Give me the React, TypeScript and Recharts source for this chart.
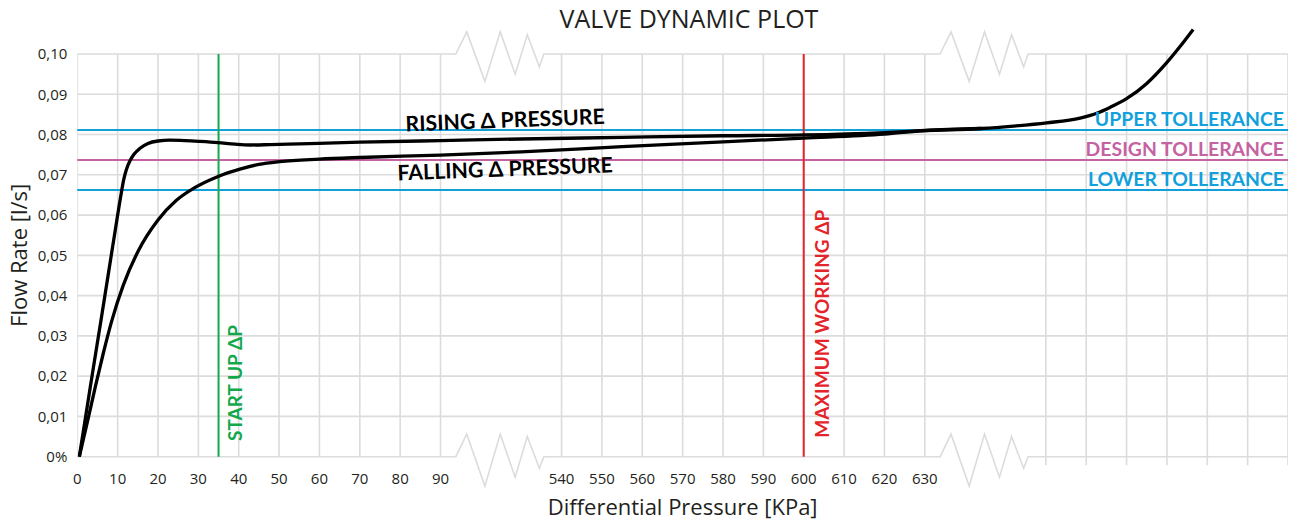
import React from 'react';
import { LineChart, Line, XAxis, YAxis, ReferenceLine, ReferenceDot } from 'recharts';

// ---- axis layout (broken x axis: positions in axis units) ----
// 0..90 -> 0..90 kPa, 120..210 -> 540..630 kPa, 240..300 -> unlabelled gridlines
const xTickPositions = [0, 10, 20, 30, 40, 50, 60, 70, 80, 90, 120, 130, 140, 150, 160, 170, 180, 190, 200, 210];
const xTickLabels = ['0', '10', '20', '30', '40', '50', '60', '70', '80', '90', '540', '550', '560', '570', '580', '590', '600', '610', '620', '630'];
const extraGridX = [240, 250, 260, 270, 280, 290, 300];
const yTicks = [0, 0.01, 0.02, 0.03, 0.04, 0.05, 0.06, 0.07, 0.08, 0.09, 0.1];
const yTickLabels = ['0%', '0,01', '0,02', '0,03', '0,04', '0,05', '0,06', '0,07', '0,08', '0,09', '0,10'];

// ---- series ----
const risingX = [0.5, 3.2, 6.0, 8.7, 10.0, 10.9, 11.5, 12.19, 13.06, 14.05, 15.54, 17.52, 20.0, 22.97, 26.69, 30.4, 34.86, 39.08, 42.8, 47.75, 55, 70, 90, 110, 135, 160, 180, 200, 210, 224, 232, 240.2, 248.5, 252.6, 256, 260, 265, 269.9, 273.2, 276.5];
const risingY = [0, 0.0172, 0.0347, 0.0518, 0.06, 0.0655, 0.0688, 0.0714, 0.0735, 0.0751, 0.0766, 0.0778, 0.0784, 0.0786, 0.0785, 0.0783, 0.078, 0.0776, 0.0774, 0.0775, 0.0777, 0.0781, 0.0785, 0.0789, 0.0793, 0.0797, 0.0799, 0.0805, 0.081, 0.0815, 0.0821, 0.0829, 0.0841, 0.0853, 0.0868, 0.0889, 0.0927, 0.0978, 0.1018, 0.1061];
const fallingX = [0.5, 2.7, 4.5, 6.4, 8.5, 11.4, 15.1, 20.0, 24.5, 29.1, 34.9, 40.3, 45, 50.2, 60, 70, 90, 110, 135, 160, 180, 200, 210, 224];
const fallingY = [0, 0.0095, 0.0175, 0.0255, 0.0336, 0.0426, 0.0511, 0.0588, 0.0636, 0.0668, 0.0696, 0.0714, 0.0726, 0.0733, 0.0739, 0.0743, 0.0749, 0.0757, 0.077, 0.0782, 0.0791, 0.0801, 0.081, 0.0815];

// ---- reference values ----
const upperTol = 0.0811;
const designTol = 0.0737;
const lowerTol = 0.0662;
const startUpPos = 35;     // 35 kPa
const maxWorkingPos = 180; // 600 kPa

// ---- axis break zigzags ----
const breakStarts = [90, 210];
const zigDX = [3.8, 6.5, 11.0, 14.8, 18.5, 21.5, 24.5, 25.6];
const zigTopY = [0.1, 0.1055, 0.0932, 0.1055, 0.095, 0.1048, 0.0968, 0.1];
const zigBottomY = [0, 0.0056, -0.0073, 0.0056, -0.0051, 0.005, -0.0029, 0];

const BLUE = '#12A0DD';
const MAGENTA = '#C462A2';
const GREEN = '#13A84B';
const RED = '#E3252B';
const GRID = '#DCDCDC';
const TXT = '#231F20';
const FONT = '"Open Sans", sans-serif';
const BOLD = 'Lato, "Open Sans", sans-serif';

const rising = risingX.map((x, i) => ({ x, y: risingY[i] }));
const falling = fallingX.map((x, i) => ({ x, y: fallingY[i] }));

const border = (base: number, zig: number[]) => {
  const pts: { x: number; y: number }[] = [{ x: 0, y: base }];
  breakStarts.forEach((b) => zigDX.forEach((dx, i) => pts.push({ x: b + dx, y: zig[i] })));
  pts.push({ x: 300, y: base });
  return pts;
};
const topBorder = border(0.1, zigTopY);
const bottomBorder = border(0, zigBottomY);

const vGrid: { x: number; y: number | null }[] = [];
xTickPositions.forEach((x) => vGrid.push({ x, y: 0 }, { x, y: 0.1 }, { x, y: null }));
extraGridX.forEach((x) => vGrid.push({ x, y: -0.0021 }, { x, y: 0.1 }, { x, y: null }));
const hGrid: { x: number; y: number | null }[] = [];
yTicks.slice(1, -1).forEach((y) => hGrid.push({ x: 0, y }, { x: 300, y }, { x: 300, y: null }));

const XTick = (props: any) => {
  const { x, y, payload } = props;
  const i = xTickPositions.indexOf(payload.value);
  return (
    <text x={x} y={y} dy={-5} textAnchor="middle" fontSize={15} fontFamily={FONT} fill={TXT}>
      {xTickLabels[i]}
    </text>
  );
};

export default function App() {
  return (
    <div style={{ position: 'absolute', left: 0, top: 0, width: 1293, height: 521, background: '#fff' }}>
      <div
        style={{
          position: 'absolute', left: 0, top: 6, width: 1378, textAlign: 'center',
          fontFamily: FONT, fontSize: 25, lineHeight: '25px', color: TXT,
        }}
      >
        VALVE DYNAMIC PLOT
      </div>
      <LineChart width={1293} height={521} margin={{ top: 21.8, right: 5, bottom: 0, left: 0 }}>
        <XAxis
          type="number" dataKey="x" domain={[0, 300]} allowDataOverflow
          ticks={xTickPositions} tick={<XTick />} tickLine={false} axisLine={false}
          tickSize={0} tickMargin={0} height={32.1} interval={0}
          label={{ value: 'Differential Pressure [KPa]', position: 'insideBottom', offset: 6, fontSize: 22, fontFamily: FONT, fill: TXT }}
        />
        <YAxis
          type="number" domain={[-0.008, 0.108]} allowDataOverflow ticks={yTicks} width={77.3}
          tickFormatter={(v: number) => yTickLabels[yTicks.indexOf(v)] ?? ''}
          tick={{ fontSize: 15, fontFamily: FONT, fill: TXT }} tickLine={false} axisLine={false}
          tickSize={0} tickMargin={10} interval={0}
          label={{ value: 'Flow Rate [l/s]', angle: -90, position: 'insideLeft', offset: 19, fontSize: 22, fontFamily: FONT, fill: TXT, style: { textAnchor: 'middle' } }}
        />
        <Line data={vGrid} dataKey="y" type="linear" stroke={GRID} strokeWidth={1.6} dot={false} isAnimationActive={false} connectNulls={false} />
        <Line data={hGrid} dataKey="y" type="linear" stroke={GRID} strokeWidth={1.6} dot={false} isAnimationActive={false} connectNulls={false} />
        <Line data={topBorder} dataKey="y" type="linear" stroke={GRID} strokeWidth={1.6} dot={false} isAnimationActive={false} />
        <Line data={bottomBorder} dataKey="y" type="linear" stroke={GRID} strokeWidth={1.6} dot={false} isAnimationActive={false} />

        <ReferenceLine y={upperTol} stroke={BLUE} strokeWidth={2}
          label={{ value: 'UPPER TOLLERANCE', position: 'insideBottomRight', offset: 4, fill: BLUE, fontSize: 19.4, fontWeight: 700, fontFamily: BOLD }} />
        <ReferenceLine y={designTol} stroke={MAGENTA} strokeWidth={2}
          label={{ value: 'DESIGN TOLLERANCE', position: 'insideBottomRight', offset: 4, fill: MAGENTA, fontSize: 19.4, fontWeight: 700, fontFamily: BOLD }} />
        <ReferenceLine y={lowerTol} stroke={BLUE} strokeWidth={2}
          label={{ value: 'LOWER TOLLERANCE', position: 'insideBottomRight', offset: 4, fill: BLUE, fontSize: 19.4, fontWeight: 700, fontFamily: BOLD }} />
        <ReferenceLine segment={[{ x: startUpPos, y: 0 }, { x: startUpPos, y: 0.1 }]} stroke={GREEN} strokeWidth={2} />
        <ReferenceLine segment={[{ x: maxWorkingPos, y: 0 }, { x: maxWorkingPos, y: 0.1 }]} stroke={RED} strokeWidth={2} />

        <ReferenceDot x={39.1} y={0.0183} r={0} fill="none" stroke="none"
          label={{ value: 'START UP ΔP', position: 'center', angle: -90, fill: GREEN, fontSize: 19, fontWeight: 700, fontFamily: BOLD }} />
        <ReferenceDot x={184.5} y={0.033} r={0} fill="none" stroke="none"
          label={{ value: 'MAXIMUM WORKING ΔP', position: 'center', angle: -90, fill: RED, fontSize: 19, fontWeight: 700, fontFamily: BOLD }} />
        <ReferenceDot x={106} y={0.0836} r={0} fill="none" stroke="none"
          label={{ value: 'RISING Δ PRESSURE', position: 'center', angle: -2.2, fill: '#000', fontSize: 21.3, fontWeight: 700, fontFamily: BOLD }} />
        <ReferenceDot x={106} y={0.0715} r={0} fill="none" stroke="none"
          label={{ value: 'FALLING Δ PRESSURE', position: 'center', angle: -2.2, fill: '#000', fontSize: 21.3, fontWeight: 700, fontFamily: BOLD }} />

        <Line data={falling} dataKey="y" type="monotone" stroke="#000" strokeWidth={3.3} dot={false} isAnimationActive={false} />
        <Line data={rising} dataKey="y" type="monotone" stroke="#000" strokeWidth={3.3} dot={false} isAnimationActive={false} />
      </LineChart>
    </div>
  );
}
